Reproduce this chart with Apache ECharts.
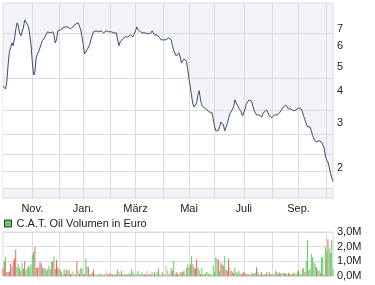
<!DOCTYPE html>
<html><head><meta charset="utf-8">
<script src="https://cdn.jsdelivr.net/npm/echarts@6.0.0/dist/echarts.min.js"></script>
<style>html,body{margin:0;padding:0;background:#fff}#c{width:375px;height:285px}</style>
</head><body><div id="c"></div>
<script>
// Daily closing price (EUR), one value per trading day
const price = [
4.19,4.15,4.08,4.35,5.07,5.71,5.92,6.19,6.03,6.42,
6.96,7.41,7.21,6.77,6.60,6.71,7.08,7.61,7.47,7.41,
7.15,6.65,6.08,5.21,4.63,4.72,5.40,5.60,5.71,5.92,
6.14,6.31,6.42,6.54,6.65,6.84,6.90,6.77,6.77,6.84,
6.65,6.19,6.36,6.90,6.96,6.96,7.02,7.08,7.15,7.15,
7.08,7.15,7.15,7.02,7.08,7.15,7.28,7.34,7.47,7.41,
7.21,6.96,6.54,6.08,5.60,5.55,5.81,5.87,6.08,6.36,
6.60,6.84,6.96,6.90,6.84,6.84,6.84,6.90,6.84,6.77,
6.84,6.90,6.84,6.84,6.84,6.84,6.77,6.77,6.77,6.77,
6.36,6.03,6.25,6.36,6.42,6.48,6.54,6.54,6.54,6.60,
6.65,6.60,6.54,6.71,6.90,7.15,6.96,6.90,6.84,6.77,
6.77,6.77,6.77,6.77,6.71,6.71,6.77,6.90,7.02,6.65,
6.60,6.65,6.54,6.48,6.36,6.31,6.36,6.42,6.36,6.31,
6.48,6.54,6.36,6.03,5.76,5.66,5.50,5.55,5.66,5.45,
5.16,5.21,5.35,5.40,5.25,4.85,4.47,4.15,3.84,3.56,
3.47,3.50,3.60,3.87,4.02,3.70,3.53,3.47,3.44,3.41,
3.38,3.38,3.32,3.29,3.29,3.12,2.92,2.80,2.75,2.80,
2.90,3.03,3.06,2.95,2.80,2.85,2.98,3.12,3.26,3.32,
3.38,3.47,3.70,3.60,3.53,3.44,3.38,3.32,3.20,3.23,
3.41,3.56,3.63,3.70,3.73,3.66,3.60,3.38,3.29,3.23,
3.26,3.23,3.20,3.17,3.26,3.32,3.32,3.38,3.29,3.20,
3.17,3.15,3.20,3.23,3.23,3.23,3.23,3.29,3.35,3.41,
3.47,3.53,3.53,3.47,3.41,3.44,3.41,3.35,3.35,3.38,
3.38,3.41,3.44,3.47,3.41,3.32,3.20,3.09,2.98,2.90,
2.90,2.90,2.80,2.68,2.60,2.58,2.53,2.56,2.56,2.56,
2.53,2.51,2.40,2.23,2.15,2.11,2.02,1.91,1.83,1.77
];
// Daily traded volume in million EUR
const volume = [
0.5,1.0,1.3,0.27,0.25,0.3,0.8,0.6,1.0,1.2,
1.8,0.6,0.8,0.55,0.35,0.9,0.5,1.0,0.4,0.55,
0.7,0.6,0.8,1.45,1.65,2.0,0.55,0.6,0.6,0.95,
0.85,0.6,0.5,0.55,0.35,0.45,0.7,0.45,0.95,1.0,
1.35,0.5,1.1,0.6,0.45,0.45,0.27,0.1,0.45,0.15,
0.45,0.4,0.4,0.15,0.12,0.3,0.1,0.1,1.0,0.35,
0.15,0.55,0.55,0.1,0.12,1.2,0.65,0.6,0.1,0.12,
0.2,0.45,0.1,0.1,0.1,0.12,0.2,0.1,0.1,0.1,
0.12,0.35,0.1,0.12,0.2,0.12,0.1,0.1,0.1,0.12,
0.45,0.25,0.1,0.35,0.1,0.12,0.1,0.12,0.1,0.2,
0.1,0.48,0.27,0.1,0.1,0.12,0.35,0.12,0.1,0.25,
0.1,0.1,0.12,0.35,0.1,0.12,0.12,0.27,0.1,0.27,
0.1,0.3,0.55,0.12,0.12,0.27,0.1,0.1,0.7,0.4,
0.1,0.2,0.55,0.35,1.0,0.1,0.25,0.12,0.1,0.27,
0.2,0.27,0.35,0.12,0.55,0.78,0.6,0.78,1.35,0.8,
0.6,0.5,1.15,0.6,0.4,0.12,0.55,0.12,0.1,0.18,
0.27,0.22,0.1,0.1,0.1,0.68,0.27,1.27,1.18,1.1,
0.35,0.9,0.78,0.72,1.35,0.45,0.35,1.18,0.6,0.35,
0.3,0.18,0.6,0.27,0.12,0.35,0.22,0.1,0.18,0.27,
0.18,0.1,0.12,0.12,0.1,0.22,0.12,0.18,0.22,0.6,
0.27,0.1,0.1,0.27,0.1,0.08,0.12,0.25,0.12,0.27,
0.12,0.12,0.1,0.1,0.35,0.25,0.12,0.25,0.18,0.18,
0.18,0.18,0.18,0.12,0.22,0.18,0.1,0.12,0.22,0.18,
0.12,0.3,0.4,0.18,0.1,0.5,0.55,0.27,1.0,2.45,
0.4,0.5,1.5,1.27,0.95,0.78,0.6,0.35,0.4,0.22,
1.27,1.32,0.1,2.0,1.67,2.5,1.9,1.6,2.45,0.5
];
// Day direction: g = up, r = down, n = unchanged
const volumeDir =
"rrgrrrrgrr"+"rgggrgrrgg"+"gggggrrrnr"+"rggrgggrgr"+"grrrgggnrg"+
"rggrrgnrrg"+"rggrrggrrr"+"rrggngnrgn"+"rnrrrgrgrr"+"ggrgrgrgrg"+
"rggrngggng"+"rrrnrnrgnr"+"rgggngnrnn"+"gggrgrrrrg"+"grrngggrgg"+
"rrrggrggrg"+"ggrgnggggr"+"grrggrrrnr"+"grggrggrrr"+"rggrngrrgr"+
"grgrgrgrgg"+"rgrggrrgrg"+"grrgrgrrgg"+"rgrggggrgg"+"rgggggrggr"+
"ggrggrgggg";
const monthStarts = [23,44,63,84,104,126,146,166,189,211,232,254];
const monthNames  = ['Nov.','Dez.','Jan.','Feb.','März','Apr.','Mai','Juni','Juli','Aug.','Sep.','Okt.'];
const labelledMonths = ['Nov.','Jan.','März','Mai','Juli','Sep.'];
const priceTicks = [2,3,4,5,6,7];
const volumeTicks = [0,1,2,3];
const legendName = 'C.A.T. Oil Volumen in Euro';

const days = price.map((_, i) => i);
const isMonth = new Set(monthStarts);
const nameAt = {};
monthStarts.forEach((d, k) => { nameAt[d] = monthNames[k]; });
const labelled = new Set(monthStarts.filter((d, k) => labelledMonths.includes(monthNames[k])));
const dirColor = { g: '#66cc66', r: '#e06666', n: '#bbbbbb' };
const volData = volume.map((v, i) => ({ value: v, itemStyle: { color: dirColor[volumeDir[i]] } }));

const lav = '#f3f4fa', gridCol = '#dcdcdc', txt = '#222';
const font = 'Liberation Sans, Arial, sans-serif';

const chart = echarts.init(document.getElementById('c'), null, { renderer: 'canvas' });
chart.setOption({
  animation: false,
  textStyle: { fontFamily: font },
  grid: [
    { left: 3, top: 3, width: 330, height: 185, show: false },
    { left: 3, top: 3, width: 330, height: 195, show: true, backgroundColor: lav, borderColor: gridCol, borderWidth: 1 },
    { left: 3, top: 232, width: 330, height: 44, show: true, backgroundColor: '#fff', borderColor: gridCol, borderWidth: 1 }
  ],
  legend: {
    data: [legendName], left: 4, top: 218, padding: 0, icon: 'rect', itemWidth: 7, itemHeight: 7, itemGap: 5,
    textStyle: { fontSize: 11, color: txt, fontFamily: font },
    itemStyle: { borderColor: '#333', borderWidth: 1 }
  },
  xAxis: [
    { gridIndex: 0, type: 'category', data: days, boundaryGap: false, z: 3,
      axisLine: { show: true, lineStyle: { color: gridCol } }, axisTick: { show: false }, axisLabel: { show: false }, splitLine: { show: false } },
    { gridIndex: 1, type: 'category', data: days, boundaryGap: false, z: 3,
      axisLine: { show: false }, axisTick: { show: false },
      splitLine: { show: true, interval: (i) => isMonth.has(i), lineStyle: { color: gridCol } },
      axisLabel: { interval: (i) => labelled.has(i), formatter: (v) => nameAt[v] || '', fontSize: 11, color: txt, margin: 5, fontFamily: font } },
    { gridIndex: 2, type: 'category', data: days, boundaryGap: false,
      axisLine: { show: false }, axisTick: { show: false }, axisLabel: { show: false },
      splitLine: { show: true, interval: (i) => isMonth.has(i), lineStyle: { color: gridCol } } }
  ],
  yAxis: [
    { gridIndex: 0, type: 'log', min: 1.67, max: 8.872, position: 'right',
      axisLine: { show: false }, axisTick: { show: false, customValues: priceTicks }, splitLine: { show: false },
      axisLabel: { customValues: priceTicks, fontSize: 11, color: txt, margin: 4, fontFamily: font } },
    { gridIndex: 1, type: 'log', inverse: true, min: 1.526, max: 8.872, z: 3,
      axisLine: { show: false }, axisTick: { show: false, customValues: priceTicks }, axisLabel: { show: false },
      splitLine: { show: true, lineStyle: { color: gridCol } } },
    { gridIndex: 2, type: 'value', min: 0, max: 3, interval: 1, position: 'right',
      axisLine: { show: false }, axisTick: { show: false },
      splitLine: { show: true, lineStyle: { color: gridCol } },
      axisLabel: { formatter: (v) => v.toFixed(1).replace('.', ',') + 'M', fontSize: 11, color: txt, margin: 4, fontFamily: font } }
  ],
  series: [
    { type: 'line', xAxisIndex: 0, yAxisIndex: 0, data: price, symbol: 'none', silent: true, z: 1,
      lineStyle: { width: 0, opacity: 0 }, areaStyle: { color: '#ffffff', opacity: 1, origin: 'start' } },
    { type: 'line', xAxisIndex: 0, yAxisIndex: 0, data: price, symbol: 'none', z: 5,
      lineStyle: { width: 1, color: '#414b6b' } },
    { type: 'bar', name: legendName, xAxisIndex: 2, yAxisIndex: 2, data: volData, barWidth: 1,
      itemStyle: { color: '#66cc66' } }
  ]
});
</script></body></html>
